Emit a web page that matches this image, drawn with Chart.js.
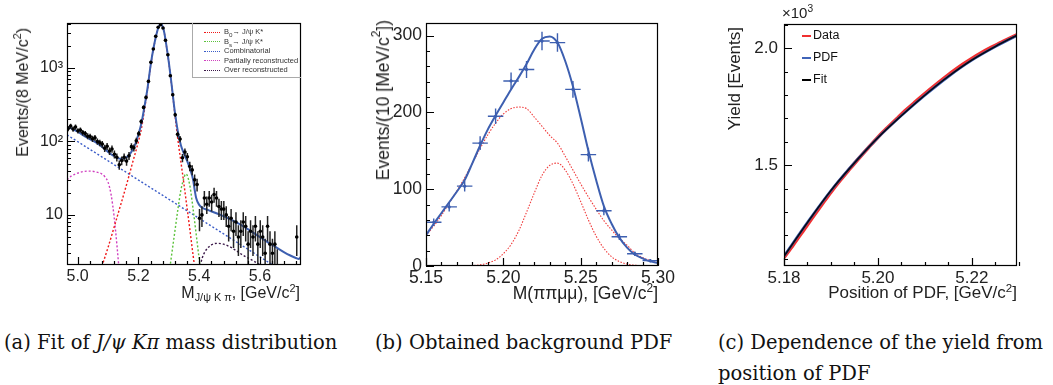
<!DOCTYPE html>
<html>
<head>
<meta charset="utf-8">
<script src="https://cdn.jsdelivr.net/npm/chart.js@4.4.1/dist/chart.umd.min.js"></script>
<style>
    body { margin: 0; width: 1053px; height: 385px; background: #fff; position: relative; overflow: hidden;
           font-family: "Liberation Sans", Arial, sans-serif; color: #222; }
    canvas { position: absolute; top: 0; }
    .t { position: absolute; white-space: nowrap; line-height: 20px; }
    .vt { writing-mode: vertical-rl; transform: rotate(180deg); }
    .t sub, .t sup { font-size: 0.68em; line-height: 0; }
    .t sub { vertical-align: -0.3em; }
    .t sup { vertical-align: 0.55em; }
    .cap { position: absolute; font-family: "DejaVu Serif", serif; font-size: 19.5px; line-height: 31px; color: #111; white-space: nowrap; }
    .legA { position: absolute; left: 192px; top: 23px; width: 108px; height: 54px; border: 1px solid #aaa;
            border-top: none; border-right: none; font-size: 7.5px; color: #333; }
    .legA div, .legC div { position: absolute; white-space: nowrap; }
    .legA i { display: inline-block; width: 16px; border-top: 1.5px dotted; vertical-align: middle; margin-right: 4px; }
    .legC { position: absolute; left: 802px; top: 28px; font-size: 12.5px; color: #111; }
    .legC i { display: inline-block; width: 9px; border-top: 2px solid; vertical-align: middle; margin-right: 2px; }
</style>
</head>
<body>
<canvas id="chartA" width="320" height="310" style="left:0"></canvas>
<canvas id="chartB" width="340" height="310" style="left:340px"></canvas>
<canvas id="chartC" width="353" height="310" style="left:700px"></canvas>

<!-- axis titles -->
<div class="t vt" style="left:13px; top:28px; font-size:16px;">Events/(8 MeV/c<sup>2</sup>)</div>
<div class="t" style="right:753px; top:283px; font-size:16px;">M<sub>J/ψ K π</sub>, [GeV/c<sup>2</sup>]</div>
<div class="t vt" style="left:373px; top:20px; font-size:17.5px;">Events/(10 [MeV/c<sup>2</sup>])</div>
<div class="t" style="right:395px; top:283px; font-size:17.5px;">M(ππμμ), [GeV/c<sup>2</sup>]</div>
<div class="t vt" style="left:725px; top:27px; font-size:17px;">Yield [Events]</div>
<div class="t" style="right:36px; top:283px; font-size:17px;">Position of PDF, [GeV/c<sup>2</sup>]</div>
<div class="t" style="left:782px; top:3px; font-size:15px;">×10<sup>3</sup></div>

<!-- legends -->
<div class="legA">
    <div style="left:11px; top:4px;"><i style="color:#f01818"></i>B<sub>0</sub>→ J/ψ K*</div>
    <div style="left:11px; top:13.5px;"><i style="color:#5cc23c"></i>B<sub>s</sub>→ J/ψ K*</div>
    <div style="left:11px; top:23px;"><i style="color:#3a5cc8"></i>Combinatorial</div>
    <div style="left:11px; top:32.5px;"><i style="color:#d040c0"></i>Partially reconstructed</div>
    <div style="left:11px; top:42px;"><i style="color:#3a1848"></i>Over reconstructed</div>
</div>
<div class="legC">
    <div style="left:0; top:0;"><i style="color:#f03030"></i>Data</div>
    <div style="left:0; top:22px;"><i style="color:#4064b8"></i>PDF</div>
    <div style="left:0; top:44px;"><i style="color:#000"></i>Fit</div>
</div>

<!-- captions -->
<div class="cap" style="left:4px; top:327px;">(a) Fit of <i>J/ψ Kπ</i> mass distribution</div>
<div class="cap" style="left:375px; top:327px;">(b) Obtained background PDF</div>
<div class="cap" style="left:718px; top:327px;">(c) Dependence of the yield from<br>position of PDF</div>

<script>
// ---- (a) J/psi K pi mass fit ----
const massBins = [4.969, 4.977, 4.985, 4.993, 5.001, 5.009, 5.017, 5.025, 5.033, 5.041,
                  5.049, 5.057, 5.065, 5.073, 5.081, 5.089, 5.097, 5.105, 5.113, 5.121,
                  5.129, 5.137, 5.145, 5.153, 5.161, 5.169, 5.177, 5.185, 5.193, 5.201,
                  5.209, 5.217, 5.225, 5.233, 5.241, 5.249, 5.257, 5.265, 5.273, 5.281,
                  5.289, 5.297, 5.305, 5.313, 5.321, 5.329, 5.337, 5.345, 5.353, 5.361,
                  5.369, 5.377, 5.385, 5.393, 5.401, 5.409, 5.417, 5.425, 5.433, 5.441,
                  5.449, 5.457, 5.465, 5.473, 5.481, 5.489, 5.497, 5.505, 5.513, 5.521,
                  5.529, 5.537, 5.545, 5.553, 5.561, 5.569, 5.577, 5.585, 5.593, 5.601,
                  5.609, 5.617, 5.625, 5.633, 5.641, 5.649, 5.657, 5.665, 5.673, 5.681,
                  5.689, 5.697, 5.705, 5.713, 5.721, 5.729];
const massCounts = [150, 162, 148, 157, 140, 143, 132, 128, 118, 117,
                    109, 112, 100, 96, 92, 81, 86, 74, 79, 67,
                    61, 48, 55, 61, 54, 64, 85, 82, 102, 128,
                    187, 291, 398, 658, 1195, 1815, 2700, 3590, 3890, 3510,
                    2380, 1513, 785, 433, 231, 125, 108, 60, 72, 62,
                    46, 41, 30, 26, 9, 10, 17, 14, 17, 15,
                    19, 17, 13, 12, 12, 10, 7, 9, 6, 8,
                    5, 6, 8, 7, 4, 6, 5, 7, 4, 6,
                    5, 3, 7, 4, 3, 4, 2, 1, 0, 1,
                    0, 1, 1, 0, 5, 1];

const fitMass  = [4.965, 4.98, 5.00, 5.02, 5.04, 5.06, 5.08, 5.10, 5.12, 5.14, 5.155, 5.17, 5.18, 5.19,
                  5.20, 5.21, 5.22, 5.23, 5.24, 5.25, 5.26, 5.265, 5.27, 5.275, 5.28, 5.285, 5.29, 5.30,
                  5.31, 5.32, 5.33, 5.34, 5.35, 5.36, 5.37, 5.38, 5.385, 5.39, 5.40, 5.41, 5.43, 5.45,
                  5.47, 5.50, 5.53, 5.56, 5.59, 5.62, 5.65, 5.68, 5.70, 5.72, 5.728, 5.735];
const fitTotal = [158, 150, 136, 120, 108, 97, 85, 72, 63, 58, 59, 66, 76, 93,
                  125, 178, 300, 530, 1080, 1900, 2950, 3500, 3830, 3920, 3650, 3050, 2300, 1200,
                  560, 250, 135, 88, 68, 55, 42, 30, 22, 17, 13.7, 12.5, 11.6, 10.8,
                  10.0, 8.8, 7.6, 6.4, 5.3, 4.4, 3.7, 3.1, 2.8, 2.57, 2.52, 2.7];

const sigMass  = [5.08, 5.10, 5.12, 5.14, 5.16, 5.18, 5.20, 5.21, 5.22, 5.23, 5.24, 5.25, 5.26, 5.265, 5.27,
                  5.275, 5.28, 5.285, 5.29, 5.30, 5.31, 5.32, 5.33, 5.34, 5.35, 5.36, 5.37, 5.38, 5.39];
const sigCurve = [2.0, 3.6, 6.8, 13, 25, 50, 100, 150, 270, 505, 1055, 1880, 2930, 3480, 3810,
                  3905, 3635, 3035, 2285, 1185, 545, 235, 105, 52, 26, 12.5, 6, 2.8, 1.4];

const bsMass  = [5.30, 5.31, 5.32, 5.33, 5.34, 5.35, 5.355, 5.36, 5.37, 5.38, 5.39, 5.40, 5.41];
const bsCurve = [1.5, 3.0, 6.0, 12, 22, 32, 36, 35, 24, 12, 5.5, 2.5, 1.2];

const combMass  = [4.965, 5.735];
const combCurve = [123, 1.19];

const partMass  = [4.965, 4.98, 5.00, 5.02, 5.04, 5.06, 5.08, 5.09, 5.10, 5.11, 5.12, 5.125, 5.13, 5.135, 5.14];
const partCurve = [30, 34, 37, 39, 39.5, 38.5, 36, 33, 28, 19, 9.5, 6, 3.6, 2.1, 1.2];

const overMass  = [5.40, 5.41, 5.42, 5.44, 5.46, 5.48, 5.50, 5.52, 5.54, 5.56, 5.58, 5.60, 5.62];
const overCurve = [1.8, 2.6, 3.2, 3.9, 4.1, 4.0, 3.7, 3.3, 2.9, 2.6, 2.35, 2.1, 1.9];

const aTicksX = [5.0, 5.2, 5.4, 5.6];
const aLabelsX = ['5.0', '5.2', '5.4', '5.6'];
const aMinorX = [5.04, 5.08, 5.12, 5.16, 5.24, 5.28, 5.32, 5.36, 5.44, 5.48, 5.52, 5.56, 5.64, 5.68, 5.72];
const aTicksY = [10, 100, 1000];
const aLabelsY = ['10', '10²', '10³'];
const aMinorY = [3, 4, 5, 6, 7, 8, 9, 20, 30, 40, 50, 60, 70, 80, 90,
                 200, 300, 400, 500, 600, 700, 800, 900, 2000, 3000, 4000];

// ---- (b) background PDF ----
const pdfBins   = [5.155, 5.165, 5.175, 5.185, 5.195, 5.205, 5.215, 5.225, 5.235, 5.245, 5.255, 5.265, 5.275, 5.285, 5.295];
const pdfCounts = [57, 77, 104, 160, 195, 241, 256, 293, 291, 230, 145, 72, 38, 16, 7];
const pdfErrors = [5, 6, 7, 9, 10, 11, 11, 12, 12, 11, 9, 6, 4, 3, 2];

const bMass = [5.150, 5.155, 5.160, 5.165, 5.170, 5.175, 5.180, 5.185, 5.190, 5.195, 5.200,
               5.205, 5.210, 5.215, 5.220, 5.225, 5.230, 5.235, 5.240, 5.245, 5.250,
               5.255, 5.260, 5.265, 5.270, 5.275, 5.280, 5.285, 5.290, 5.295, 5.300];
const bTotal  = [40, 55, 69, 83, 97, 112, 134, 157, 178, 196, 213,
                 230, 246, 263, 282, 296, 299, 291, 267, 234, 193,
                 150, 112, 78, 55, 37, 24, 15, 10, 6, 4];
const bWide   = [40, 52, 66, 82, 98, 115, 134, 153, 171, 186, 198,
                 205, 207, 205, 194, 182, 170, 160, 143, 125, 107,
                 90, 74, 59, 47, 36, 27, 17, 11, 7, 4];
const bNarrow = [0, 0, 0, 0, 0, 0.2, 0.6, 1.6, 3.8, 8, 16,
                 28, 46, 70, 95, 118, 131, 134, 125, 107, 84,
                 60, 39, 23, 12, 5.8, 2.5, 1.0, 0.4, 0.1, 0];

const bTicksX = [5.15, 5.20, 5.25, 5.30];
const bLabelsX = ['5.15', '5.20', '5.25', '5.30'];
const bMinorX = [5.16, 5.17, 5.18, 5.19, 5.21, 5.22, 5.23, 5.24, 5.26, 5.27, 5.28, 5.29];
const bTicksY = [0, 100, 200, 300];
const bLabelsY = ['0', '100', '200', '300'];
const bMinorY = [20, 40, 60, 80, 120, 140, 160, 180, 220, 240, 260, 280];

// ---- (c) yield vs PDF position ----
const cPos      = [5.180, 5.185, 5.190, 5.195, 5.200, 5.205, 5.210, 5.215, 5.220, 5.225, 5.230];
const fitYield  = [1110, 1255, 1392, 1510, 1618, 1712, 1800, 1880, 1950, 2008, 2060];
const pdfYield  = [1112, 1256, 1392, 1511, 1618, 1712, 1799, 1879, 1949, 2007, 2059];
const dataPos   = [5.180, 5.182, 5.184, 5.186, 5.188, 5.190, 5.192, 5.194, 5.196, 5.198, 5.200, 5.202, 5.204,
                   5.206, 5.208, 5.210, 5.212, 5.214, 5.216, 5.218, 5.220, 5.222, 5.224, 5.226, 5.228, 5.230];
const dataYield = [1105, 1160, 1217, 1274, 1330, 1385, 1436, 1484, 1531, 1576, 1620, 1660, 1699,
                   1737, 1772, 1806, 1839, 1871, 1902, 1931, 1957, 1981, 2003, 2023, 2043, 2062];

const cTicksX = [5.18, 5.20, 5.22];
const cLabelsX = ['5.18', '5.20', '5.22'];
const cMinorX = [5.185, 5.19, 5.195, 5.205, 5.21, 5.215, 5.225, 5.23];
const cTicksY = [1500, 2000];
const cLabelsY = ['1.5', '2.0'];
const cMinorY = [1100, 1200, 1300, 1400, 1600, 1700, 1800, 1900, 2100];

Chart.defaults.font.family = '"Liberation Sans", Arial, sans-serif';
Chart.defaults.color = '#222';

// ROOT-like frame with inward ticks
const rootFrame = {
    id: 'rootFrame',
    afterDatasetsDraw(chart, args, opts) {
        const {ctx, chartArea: a} = chart;
        const xs = chart.scales.x, ys = chart.scales.y;
        ctx.save();
        ctx.strokeStyle = '#000';
        ctx.lineWidth = 1.2;
        ctx.beginPath();
        const tickX = (vals, len) => vals.forEach(v => {
            const p = Math.round(xs.getPixelForValue(v)) + 0.5;
            ctx.moveTo(p, a.bottom); ctx.lineTo(p, a.bottom - len);
        });
        const tickY = (vals, len) => vals.forEach(v => {
            const p = Math.round(ys.getPixelForValue(v)) + 0.5;
            ctx.moveTo(a.left, p); ctx.lineTo(a.left + len, p);
        });
        tickX(opts.xMajor, 8); tickX(opts.xMinor, 4);
        tickY(opts.yMajor, 8); tickY(opts.yMinor, 4);
        ctx.stroke();
        ctx.strokeRect(a.left + 0.5, a.top + 0.5, a.right - a.left - 1, a.bottom - a.top - 1);
        ctx.restore();
    }
};

// error crosses drawn just before the marker dataset
const errorBars = {
    id: 'errorBars',
    beforeDatasetDraw(chart, args) {
        const ds = chart.data.datasets[args.index];
        if (!ds.errorBar) return;
        const {ctx, chartArea: a} = chart;
        const xs = chart.scales.x, ys = chart.scales.y;
        ctx.save();
        ctx.beginPath();
        ctx.rect(a.left, a.top, a.right - a.left, a.bottom - a.top);
        ctx.clip();
        ctx.strokeStyle = ds.errorBar.color;
        ctx.lineWidth = ds.errorBar.width;
        ctx.beginPath();
        ds.data.forEach(p => {
            const px = xs.getPixelForValue(p.x);
            const py = ys.getPixelForValue(p.y);
            const lo = Math.max(p.y - p.e, ys.min > 0 ? ys.min * 0.5 : p.y - p.e);
            ctx.moveTo(xs.getPixelForValue(p.x - ds.errorBar.half), py);
            ctx.lineTo(xs.getPixelForValue(p.x + ds.errorBar.half), py);
            ctx.moveTo(px, ys.getPixelForValue(lo));
            ctx.lineTo(px, ys.getPixelForValue(p.y + p.e));
        });
        ctx.stroke();
        ctx.restore();
    }
};

function pts(xs, ys) {
    return xs.map((x, i) => ({x: x, y: ys[i]}));
}

function curve(xs, ys, color, width, dash) {
    return {
        data: pts(xs, ys), showLine: true, pointRadius: 0, borderColor: color, borderWidth: width,
        borderDash: dash || [], cubicInterpolationMode: 'monotone', fill: false
    };
}

// axis setup shared by the three panels; the plot box is fixed through afterFit
function axes(c) {
    return {
        x: {
            type: 'linear', min: c.xMin, max: c.xMax,
            grid: {display: false, drawTicks: false}, border: {display: false},
            afterBuildTicks: s => { s.ticks = c.xTicks.map(v => ({value: v})); },
            afterFit: s => { s.height = c.h - c.bottom; },
            ticks: {autoSkip: false, maxRotation: 0, padding: c.xPad, font: {size: c.font},
                    color: '#222', callback: (v, i) => c.xLabels[i]}
        },
        y: {
            type: c.yType, min: c.yMin, max: c.yMax,
            grid: {display: false, drawTicks: false}, border: {display: false},
            afterBuildTicks: s => { s.ticks = c.yTicks.map(v => ({value: v})); },
            afterFit: s => { s.width = c.left; },
            ticks: {autoSkip: false, padding: c.yPad, font: {size: c.font},
                    color: '#222', callback: (v, i) => c.yLabels[i]}
        }
    };
}

function baseOptions(c, frame) {
    return {
        responsive: false, animation: false,
        layout: {padding: {top: c.top, right: c.right, left: 0, bottom: 0}},
        scales: axes(c),
        plugins: {legend: {display: false}, tooltip: {enabled: false}, rootFrame: frame}
    };
}

// Chart.js paints the first dataset last, so the top layer comes first in each list

// (a)
const massData = massBins.map((x, i) => ({x: x, y: massCounts[i], e: Math.sqrt(massCounts[i])}))
                         .filter(p => p.y > 0);
new Chart(document.getElementById('chartA'), {
    type: 'scatter',
    data: {
        datasets: [
            {data: massData, pointRadius: 1.8, pointBackgroundColor: '#000', pointBorderWidth: 0,
             errorBar: {half: 0.004, color: '#222', width: 1.5}},
            curve(fitMass, fitTotal, '#3d5fb0', 2, null),
            curve(sigMass, sigCurve, '#f01818', 1.4, [2, 2]),
            curve(bsMass, bsCurve, '#5cc23c', 1.4, [2, 2]),
            curve(combMass, combCurve, '#3a5cc8', 1.4, [2, 2]),
            curve(partMass, partCurve, '#d040c0', 1.4, [2, 2]),
            curve(overMass, overCurve, '#3a1848', 1.4, [2, 2])
        ]
    },
    options: baseOptions({xMin: 4.965, xMax: 5.735, yType: 'logarithmic', yMin: 2.08, yMax: 4100,
                          xTicks: aTicksX, xLabels: aLabelsX, yTicks: aTicksY, yLabels: aLabelsY,
                          h: 310, top: 23, bottom: 265, left: 67, right: 19, font: 16, xPad: 2, yPad: 4},
                         {xMajor: aTicksX, xMinor: aMinorX, yMajor: aTicksY, yMinor: aMinorY}),
    plugins: [errorBars, rootFrame]
});

// (b)
const bgData = pdfBins.map((x, i) => ({x: x, y: pdfCounts[i], e: pdfErrors[i]}));
new Chart(document.getElementById('chartB'), {
    type: 'scatter',
    data: {
        datasets: [
            curve(bMass, bTotal, '#3d5fb0', 2, null),
            {data: bgData, pointRadius: 1.6, pointBackgroundColor: '#3d5fb0', pointBorderWidth: 0,
             errorBar: {half: 0.005, color: '#3d5fb0', width: 1.4}},
            curve(bMass, bWide, '#f03a3a', 1.1, [1.5, 1.5]),
            curve(bMass, bNarrow, '#f03a3a', 1.1, [1.5, 1.5])
        ]
    },
    options: baseOptions({xMin: 5.15, xMax: 5.30, yType: 'linear', yMin: 0, yMax: 316.5,
                          xTicks: bTicksX, xLabels: bLabelsX, yTicks: bTicksY, yLabels: bLabelsY,
                          h: 310, top: 23, bottom: 266, left: 86, right: 22, font: 17.5, xPad: 2, yPad: 4},
                         {xMajor: bTicksX, xMinor: bMinorX, yMajor: bTicksY, yMinor: bMinorY}),
    plugins: [errorBars, rootFrame]
});

// (c)
new Chart(document.getElementById('chartC'), {
    type: 'scatter',
    data: {
        datasets: [
            curve(cPos, fitYield, '#0a0a14', 1.6, null),
            curve(cPos, pdfYield, '#4064b8', 2.6, null),
            curve(dataPos, dataYield, '#f03030', 3.5, null)
        ]
    },
    options: baseOptions({xMin: 5.18, xMax: 5.2296, yType: 'linear', yMin: 1069, yMax: 2104,
                          xTicks: cTicksX, xLabels: cLabelsX, yTicks: cTicksY, yLabels: cLabelsY,
                          h: 310, top: 24, bottom: 266, left: 84, right: 36, font: 17, xPad: 2, yPad: 6},
                         {xMajor: cTicksX, xMinor: cMinorX, yMajor: cTicksY, yMinor: cMinorY}),
    plugins: [rootFrame]
});
</script>
</body>
</html>
